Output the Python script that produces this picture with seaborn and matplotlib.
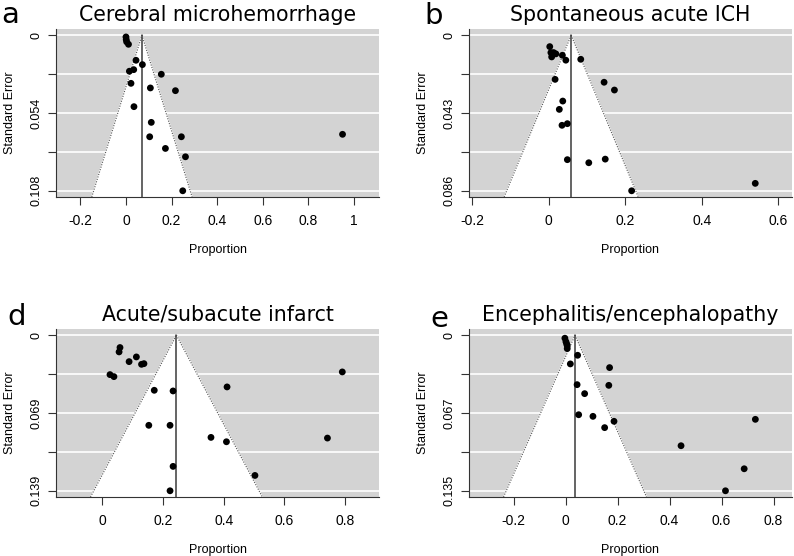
import numpy as np
import pandas as pd
import seaborn as sns
import matplotlib.pyplot as plt

# Panel a - Cerebral microhemorrhage
a_prop = [0.000, 0.001, 0.003, 0.011, 0.044, 0.072, 0.034, 0.015, 0.155, 0.022,
          0.107, 0.217, 0.035, 0.111, 0.104, 0.243, 0.950, 0.173, 0.261, 0.249]
a_se = [0.0012, 0.0030, 0.0046, 0.0063, 0.0174, 0.0204, 0.0239, 0.0250, 0.0271, 0.0334,
        0.0366, 0.0385, 0.0496, 0.0605, 0.0705, 0.0705, 0.0688, 0.0786, 0.0844, 0.108]
a_est = 0.070

# Panel b - Spontaneous acute ICH
b_prop = [0.003, 0.006, 0.013, 0.019, 0.008, 0.036, 0.045, 0.084, 0.017, 0.145,
          0.172, 0.037, 0.028, 0.035, 0.049, 0.049, 0.105, 0.148, 0.540, 0.217]
b_se = [0.0063, 0.0096, 0.0096, 0.0103, 0.0120, 0.0111, 0.0138, 0.0133, 0.0244, 0.0260,
        0.0303, 0.0364, 0.0410, 0.0498, 0.0489, 0.0688, 0.0705, 0.0685, 0.0819, 0.086]
b_est = 0.059

# Panel d - Acute/subacute infarct
d_prop = [0.058, 0.055, 0.112, 0.088, 0.129, 0.137, 0.025, 0.038, 0.791, 0.171,
          0.233, 0.411, 0.153, 0.223, 0.358, 0.409, 0.742, 0.233, 0.503, 0.223]
d_se = [0.0110, 0.0149, 0.0194, 0.0236, 0.0260, 0.0254, 0.0352, 0.0370, 0.0328, 0.0492,
        0.0498, 0.0462, 0.0805, 0.0805, 0.0913, 0.0952, 0.0919, 0.1172, 0.1253, 0.139]
d_est = 0.244

# Panel e - Encephalitis/encephalopathy
e_prop = [-0.003, 0.001, 0.004, 0.006, 0.006, 0.046, 0.018, 0.169, 0.044, 0.166,
          0.073, 0.050, 0.105, 0.186, 0.150, 0.730, 0.444, 0.687, 0.615]
e_se = [0.0026, 0.0056, 0.0076, 0.0090, 0.0116, 0.0174, 0.0249, 0.0281, 0.0429, 0.0435,
        0.0507, 0.0690, 0.0704, 0.0747, 0.0802, 0.0730, 0.0959, 0.1159, 0.135]
e_est = 0.036

titles = ['Cerebral microhemorrhage', 'Spontaneous acute ICH',
          'Acute/subacute infarct', 'Encephalitis/encephalopathy']
letters = ['a', 'b', 'd', 'e']
se_max = [0.108, 0.086, 0.139, 0.135]
se_labels = [['0', '0.054', '0.108'], ['0', '0.043', '0.086'],
             ['0', '0.069', '0.139'], ['0', '0.067', '0.135']]
x_ticks = [[-0.2, 0, 0.2, 0.4, 0.6, 0.8, 1], [-0.2, 0, 0.2, 0.4, 0.6],
           [0, 0.2, 0.4, 0.6, 0.8], [-0.2, 0, 0.2, 0.4, 0.6, 0.8]]
x_labels = [['-0.2', '0', '0.2', '0.4', '0.6', '0.8', '1'], ['-0.2', '0', '0.2', '0.4', '0.6'],
            ['0', '0.2', '0.4', '0.6', '0.8'], ['-0.2', '0', '0.2', '0.4', '0.6', '0.8']]
x_lims = [(-0.307, 1.11), (-0.208, 0.636), (-0.153, 0.912), (-0.372, 0.871)]

panels = [(a_prop, a_se, a_est), (b_prop, b_se, b_est),
          (d_prop, d_se, d_est), (e_prop, e_se, e_est)]

sns.set_style('white')
plt.rcParams['font.family'] = ['Liberation Sans', 'DejaVu Sans']
plt.rcParams['text.color'] = 'black'

W, H = 794, 556
fig = plt.figure(figsize=(W / 100, H / 100), dpi=100)
fig.patch.set_facecolor('white')

# axes boxes in pixels: left, top
boxes = [(56, 29), (469, 29), (56, 329), (469, 329)]
aw, ah = 323, 168
letter_pos = [(1, 23), (424, 24), (7, 325), (430, 327)]

for i, (prop, se, est) in enumerate(panels):
    left, top = boxes[i]
    ax = fig.add_axes([left / W, 1 - (top + ah) / H, aw / W, ah / H])
    smax = se_max[i]
    ylo, yhi = -0.04 * smax, 1.04 * smax
    ax.set_xlim(*x_lims[i])
    ax.set_ylim(yhi, ylo)
    ax.set_facecolor('#d3d3d3')

    grid = np.linspace(0, smax, 5)
    for g in grid:
        ax.axhline(g, color='white', lw=1.2, zorder=1)

    # funnel region (pseudo 95% CI)
    fx = [est - 1.96 * yhi, est, est + 1.96 * yhi]
    fy = [yhi, 0, yhi]
    ax.fill(fx, fy, color='white', zorder=2)
    ax.plot([fx[0], fx[1]], [fy[0], fy[1]], color='#555555', lw=0.8, ls=(0, (1, 1.3)), zorder=3)
    ax.plot([fx[1], fx[2]], [fy[1], fy[2]], color='#555555', lw=0.8, ls=(0, (1, 1.3)), zorder=3)
    ax.plot([est, est], [0, yhi], color='#3a3a3a', lw=1.1, zorder=3)

    df = pd.DataFrame({'Proportion': prop, 'SE': se})
    sns.scatterplot(data=df, x='Proportion', y='SE', ax=ax, color='black',
                    s=24, edgecolor='none', linewidth=0, zorder=4)

    ax.set_yticks(grid)
    ax.set_yticklabels([se_labels[i][0], '', se_labels[i][1], '', se_labels[i][2]],
                       rotation=90, va='center', fontsize=9)
    ax.set_xticks(x_ticks[i])
    ax.set_xticklabels(x_labels[i], fontsize=10)
    ax.tick_params(axis='both', direction='out', length=6, width=0.8, color='#333333',
                   left=True, bottom=True, labelcolor='black')
    ax.tick_params(axis='x', pad=6)
    ax.tick_params(axis='y', pad=4)
    ax.set_xlabel('Proportion', fontsize=9, labelpad=12, color='black')
    ax.set_ylabel('Standard Error', fontsize=9, labelpad=10, color='black')

    for s in ['top', 'right']:
        ax.spines[s].set_visible(False)
    for s in ['left', 'bottom']:
        ax.spines[s].set_color('#333333')
        ax.spines[s].set_linewidth(0.8)

    ax.set_title(titles[i], fontsize=14.8, family='DejaVu Sans', pad=6, color='black')
    lx, ly = letter_pos[i]
    fig.text(lx / W, 1 - ly / H, letters[i], fontsize=21, family='DejaVu Sans',
             va='baseline', ha='left', color='black')

fig.savefig('out.png', dpi=100)
